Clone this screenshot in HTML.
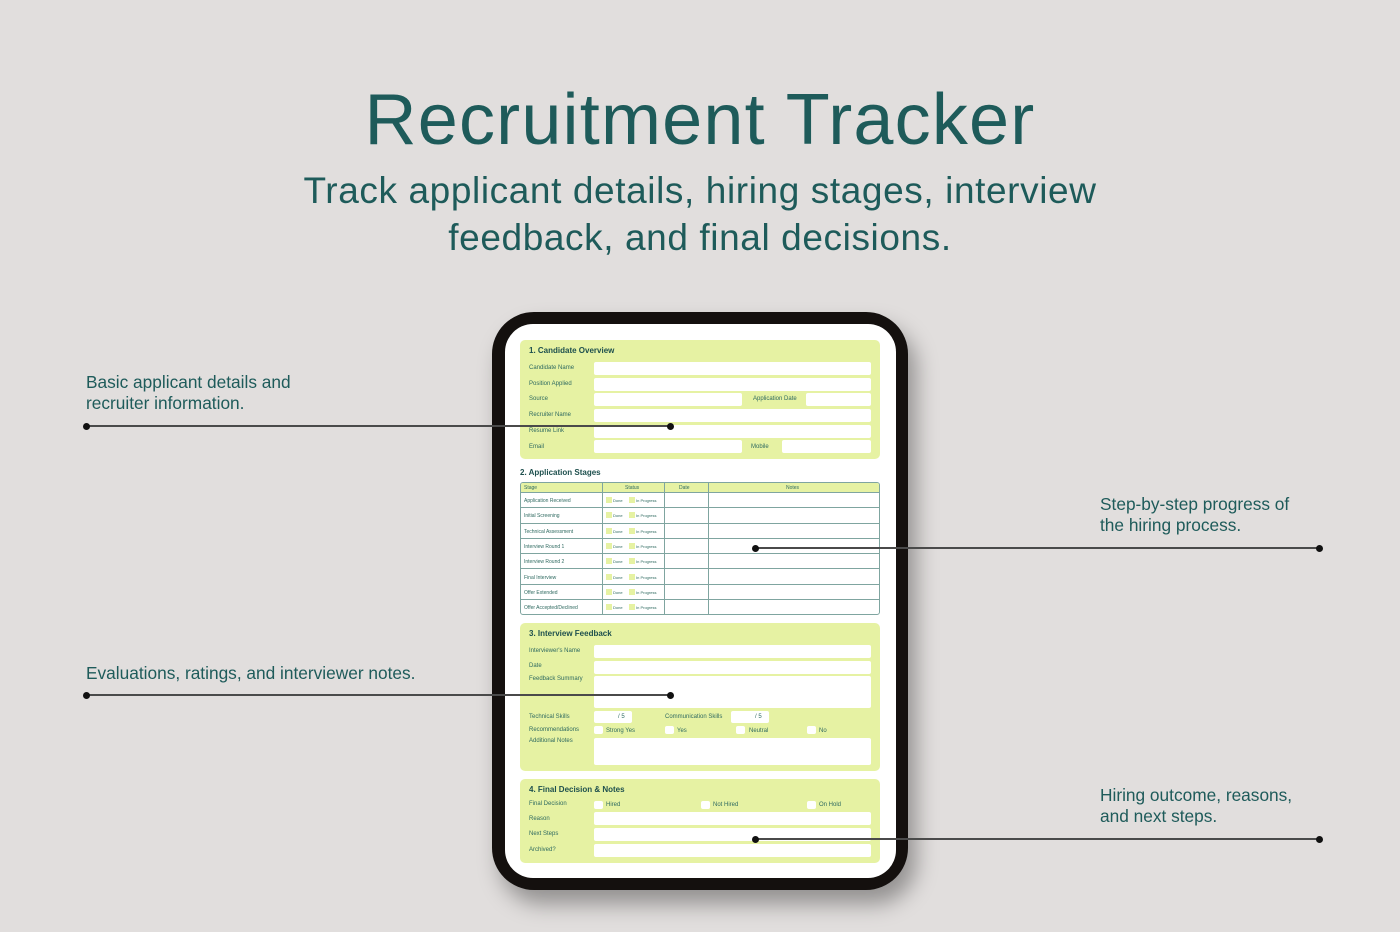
<!DOCTYPE html>
<html><head><meta charset="utf-8"><style>
*{margin:0;padding:0;box-sizing:border-box}
body{width:1400px;height:932px;background:#e1dedd;position:relative;overflow:hidden;font-family:"Liberation Sans",sans-serif;color:#1e5b5a}
.a{position:absolute}
.t{position:absolute;white-space:nowrap}
h1{position:absolute;left:0;width:1400px;text-align:center;top:79px;font-size:72px;letter-spacing:1.2px;font-weight:400}
.sub{position:absolute;left:0;width:1400px;text-align:center;top:167px;font-size:37px;letter-spacing:0.6px;line-height:47px}
.co{font-size:17.3px;line-height:21px}
.ln{position:absolute;height:2px;background:#4a4a4a}
.dot{position:absolute;width:7px;height:7px;border-radius:50%;background:#111}
.sec{position:absolute;background:#e6f2a3;border-radius:5px}
.st{font-size:8px;font-weight:bold;color:#1d4f4d}
.lb{font-size:6px;color:#2f6a60}
.in{position:absolute;background:#fff;border-radius:2px}
.cb{position:absolute;background:#fff;border-radius:2px;width:9px;height:8px}
.sq{position:absolute;background:#e6f2a3;width:6px;height:6px}
.tl{font-size:5px;color:#2f6a60}
</style></head><body>
<h1>Recruitment Tracker</h1>
<div class="sub">Track applicant details, hiring stages, interview<br>feedback, and final decisions.</div>

<div class="t co" style="left:86px;top:372px">Basic applicant details and<br>recruiter information.</div>
<div class="t co" style="left:86px;top:663px">Evaluations, ratings, and interviewer notes.</div>
<div class="t co" style="left:1100px;top:494px">Step-by-step progress of<br>the hiring process.</div>
<div class="t co" style="left:1100px;top:785px">Hiring outcome, reasons,<br>and next steps.</div>

<div class="a" style="left:492px;top:312px;width:416px;height:578px;background:#14100e;border-radius:42px;box-shadow:8px 14px 22px rgba(0,0,0,0.35)"></div>
<div class="a" style="left:505px;top:324px;width:391px;height:554px;background:#fff;border-radius:28px"></div>

<div class="sec" style="left:520px;top:340px;width:360px;height:119px"></div>
<div class="t st" style="left:529px;top:346px">1. Candidate Overview</div>
<div class="t lb" style="left:529px;top:365px">Candidate Name</div><div class="in" style="left:594px;top:362px;width:277px;height:13px"></div>
<div class="t lb" style="left:529px;top:381px">Position Applied</div><div class="in" style="left:594px;top:378px;width:277px;height:13px"></div>
<div class="t lb" style="left:529px;top:396px">Source</div><div class="in" style="left:594px;top:393px;width:148px;height:13px"></div>
<div class="t lb" style="left:753px;top:396px">Application Date</div><div class="in" style="left:806px;top:393px;width:65px;height:13px"></div>
<div class="t lb" style="left:529px;top:412px">Recruiter Name</div><div class="in" style="left:594px;top:409px;width:277px;height:13px"></div>
<div class="t lb" style="left:529px;top:428px">Resume Link</div><div class="in" style="left:594px;top:425px;width:277px;height:13px"></div>
<div class="t lb" style="left:529px;top:444px">Email</div><div class="in" style="left:594px;top:440px;width:148px;height:13px"></div>
<div class="t lb" style="left:751px;top:444px">Mobile</div><div class="in" style="left:782px;top:440px;width:89px;height:13px"></div>

<div class="t st" style="left:520px;top:468px">2. Application Stages</div>
<div class="a" style="left:520px;top:482px;width:360px;height:133px;border:1px solid #7fa5a0;border-radius:3px;overflow:hidden">
  <div class="a" style="left:0;top:0;width:360px;height:10px;background:#e6f2a3;border-bottom:1px solid #7fa5a0"></div>
  <div class="a" style="left:81px;top:0;width:1px;height:133px;background:#7fa5a0"></div>
  <div class="a" style="left:143px;top:0;width:1px;height:133px;background:#7fa5a0"></div>
  <div class="a" style="left:187px;top:0;width:1px;height:133px;background:#7fa5a0"></div>
  <div class="t tl" style="left:3px;top:2px">Stage</div>
  <div class="t tl" style="left:104px;top:2px">Status</div>
  <div class="t tl" style="left:158px;top:2px">Date</div>
  <div class="t tl" style="left:265px;top:2px">Notes</div>
</div>

<div class="sec" style="left:520px;top:623px;width:360px;height:148px"></div>
<div class="t st" style="left:529px;top:629px">3. Interview Feedback</div>
<div class="t lb" style="left:529px;top:648px">Interviewer's Name</div><div class="in" style="left:594px;top:645px;width:277px;height:13px"></div>
<div class="t lb" style="left:529px;top:663px">Date</div><div class="in" style="left:594px;top:661px;width:277px;height:13px"></div>
<div class="t lb" style="left:529px;top:676px">Feedback Summary</div><div class="in" style="left:594px;top:676px;width:277px;height:32px"></div>
<div class="t lb" style="left:529px;top:714px">Technical Skills</div><div class="in" style="left:594px;top:711px;width:38px;height:12px"></div><div class="t lb" style="left:618px;top:714px">/ 5</div>
<div class="t lb" style="left:665px;top:714px">Communication Skills</div><div class="in" style="left:731px;top:711px;width:38px;height:12px"></div><div class="t lb" style="left:755px;top:714px">/ 5</div>
<div class="t lb" style="left:529px;top:727px">Recommendations</div>
<div class="cb" style="left:594px;top:726px"></div><div class="t lb" style="left:606px;top:728px">Strong Yes</div>
<div class="cb" style="left:665px;top:726px"></div><div class="t lb" style="left:677px;top:728px">Yes</div>
<div class="cb" style="left:736px;top:726px"></div><div class="t lb" style="left:749px;top:728px">Neutral</div>
<div class="cb" style="left:807px;top:726px"></div><div class="t lb" style="left:819px;top:728px">No</div>
<div class="t lb" style="left:529px;top:738px">Additional Notes</div><div class="in" style="left:594px;top:738px;width:277px;height:27px"></div>

<div class="sec" style="left:520px;top:779px;width:360px;height:84px"></div>
<div class="t st" style="left:529px;top:785px">4. Final Decision &amp; Notes</div>
<div class="t lb" style="left:529px;top:801px">Final Decision</div>
<div class="cb" style="left:594px;top:801px"></div><div class="t lb" style="left:606px;top:802px">Hired</div>
<div class="cb" style="left:701px;top:801px"></div><div class="t lb" style="left:713px;top:802px">Not Hired</div>
<div class="cb" style="left:807px;top:801px"></div><div class="t lb" style="left:819px;top:802px">On Hold</div>
<div class="t lb" style="left:529px;top:816px">Reason</div><div class="in" style="left:594px;top:812px;width:277px;height:13px"></div>
<div class="t lb" style="left:529px;top:831px">Next Steps</div><div class="in" style="left:594px;top:828px;width:277px;height:13px"></div>
<div class="t lb" style="left:529px;top:847px">Archived?</div><div class="in" style="left:594px;top:844px;width:277px;height:13px"></div>

<div class="a" style="left:520px;top:493px;width:360px">
<div class="a" style="top:0;left:0;width:360px;height:15.3px;border-bottom:1px solid #7fa5a0"><span class="t tl" style="left:4px;top:5px">Application Received</span><span class="sq" style="left:86px;top:4px"></span><span class="t tl" style="left:93px;top:5px;font-size:4px">Done</span><span class="sq" style="left:109px;top:4px"></span><span class="t tl" style="left:116px;top:5px;font-size:4px">In Progress</span></div>
<div class="a" style="top:15.3px;left:0;width:360px;height:15.3px;border-bottom:1px solid #7fa5a0"><span class="t tl" style="left:4px;top:5px">Initial Screening</span><span class="sq" style="left:86px;top:4px"></span><span class="t tl" style="left:93px;top:5px;font-size:4px">Done</span><span class="sq" style="left:109px;top:4px"></span><span class="t tl" style="left:116px;top:5px;font-size:4px">In Progress</span></div>
<div class="a" style="top:30.6px;left:0;width:360px;height:15.3px;border-bottom:1px solid #7fa5a0"><span class="t tl" style="left:4px;top:5px">Technical Assessment</span><span class="sq" style="left:86px;top:4px"></span><span class="t tl" style="left:93px;top:5px;font-size:4px">Done</span><span class="sq" style="left:109px;top:4px"></span><span class="t tl" style="left:116px;top:5px;font-size:4px">In Progress</span></div>
<div class="a" style="top:45.9px;left:0;width:360px;height:15.3px;border-bottom:1px solid #7fa5a0"><span class="t tl" style="left:4px;top:5px">Interview Round 1</span><span class="sq" style="left:86px;top:4px"></span><span class="t tl" style="left:93px;top:5px;font-size:4px">Done</span><span class="sq" style="left:109px;top:4px"></span><span class="t tl" style="left:116px;top:5px;font-size:4px">In Progress</span></div>
<div class="a" style="top:61.2px;left:0;width:360px;height:15.3px;border-bottom:1px solid #7fa5a0"><span class="t tl" style="left:4px;top:5px">Interview Round 2</span><span class="sq" style="left:86px;top:4px"></span><span class="t tl" style="left:93px;top:5px;font-size:4px">Done</span><span class="sq" style="left:109px;top:4px"></span><span class="t tl" style="left:116px;top:5px;font-size:4px">In Progress</span></div>
<div class="a" style="top:76.5px;left:0;width:360px;height:15.3px;border-bottom:1px solid #7fa5a0"><span class="t tl" style="left:4px;top:5px">Final Interview</span><span class="sq" style="left:86px;top:4px"></span><span class="t tl" style="left:93px;top:5px;font-size:4px">Done</span><span class="sq" style="left:109px;top:4px"></span><span class="t tl" style="left:116px;top:5px;font-size:4px">In Progress</span></div>
<div class="a" style="top:91.8px;left:0;width:360px;height:15.3px;border-bottom:1px solid #7fa5a0"><span class="t tl" style="left:4px;top:5px">Offer Extended</span><span class="sq" style="left:86px;top:4px"></span><span class="t tl" style="left:93px;top:5px;font-size:4px">Done</span><span class="sq" style="left:109px;top:4px"></span><span class="t tl" style="left:116px;top:5px;font-size:4px">In Progress</span></div>
<div class="a" style="top:107.1px;left:0;width:360px;height:15.3px"><span class="t tl" style="left:4px;top:5px">Offer Accepted/Declined</span><span class="sq" style="left:86px;top:4px"></span><span class="t tl" style="left:93px;top:5px;font-size:4px">Done</span><span class="sq" style="left:109px;top:4px"></span><span class="t tl" style="left:116px;top:5px;font-size:4px">In Progress</span></div>
</div>

<div class="ln" style="left:86px;top:425px;width:584px"></div>
<div class="dot" style="left:83px;top:423px"></div><div class="dot" style="left:667px;top:423px"></div>
<div class="ln" style="left:86px;top:694px;width:584px"></div>
<div class="dot" style="left:83px;top:692px"></div><div class="dot" style="left:667px;top:692px"></div>
<div class="ln" style="left:755px;top:547px;width:564px"></div>
<div class="dot" style="left:752px;top:545px"></div><div class="dot" style="left:1316px;top:545px"></div>
<div class="ln" style="left:755px;top:838px;width:564px"></div>
<div class="dot" style="left:752px;top:836px"></div><div class="dot" style="left:1316px;top:836px"></div>
</body></html>
